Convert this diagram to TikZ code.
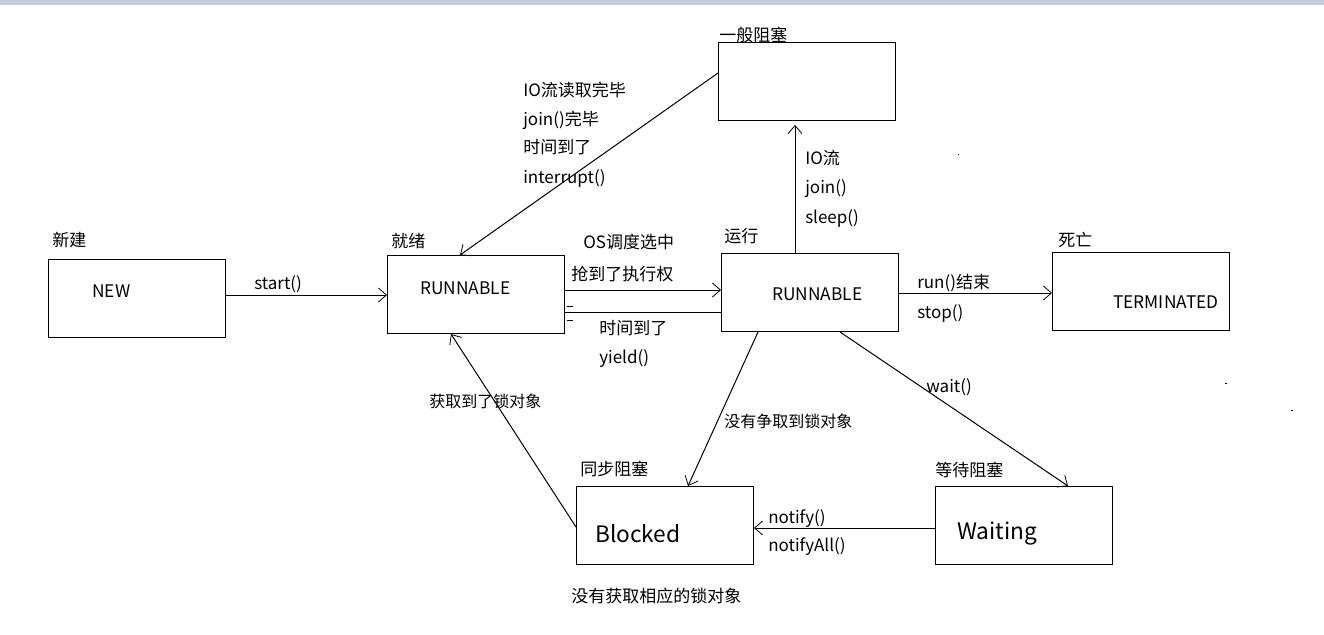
\documentclass[tikz,border=0pt]{standalone}
\usepackage{fontspec}
\setmainfont{Noto Sans CJK SC}
\usetikzlibrary{arrows.meta}
\definecolor{barblue}{HTML}{C5CEE0}
\begin{document}
\begin{tikzpicture}[x=0.75pt,y=-0.75pt,
  box/.style={draw,line width=0.75pt,minimum width=132.75pt,minimum height=58.5pt,inner sep=0pt,anchor=north west},
  lbl/.style={inner sep=0pt,anchor=west,font=\fontsize{12.75pt}{14pt}\selectfont},
  slbl/.style={inner sep=0pt,anchor=west,font=\fontsize{12pt}{14pt}\selectfont},
  intxt/.style={inner sep=0pt,anchor=west,font=\fontsize{13pt}{15pt}\selectfont},
  bigtxt/.style={inner sep=0pt,anchor=west,font=\fontsize{17pt}{20pt}\selectfont},
  conn/.style={line width=0.75pt},
  arr/.style={conn,-{Straight Barb[length=6pt,width=10.5pt,line width=0.6pt]}}
]
\useasboundingbox (0,0) rectangle (1324,635);
\fill[white] (0,0) rectangle (1324,635);
\fill[barblue] (0,0) rectangle (1324,5);

% boxes
\node[box] (new)  at (48,259)  {};
\node[box] (run1) at (387,255) {};
\node[box] (run2) at (721,253) {};
\node[box] (gen)  at (718,42)  {};
\node[box] (term) at (1052,252) {};
\node[box] (blk)  at (576,486) {};
\node[box] (wt)   at (935,486) {};

% box titles
\node[lbl] (tnew)  at (52,240)  {新建};
\node[lbl] (trun1) at (391,241) {就绪};
\node[lbl] (trun2) at (724,236) {运行};
\node[lbl] (tgen)  at (719,35)  {一般阻塞};
\node[lbl] (tterm) at (1058,240) {死亡};
\node[lbl] (tblk)  at (580,469) {同步阻塞};
\node[lbl] (twt)   at (935,470) {等待阻塞};

% box contents
\node[intxt] (inew)  at (92,291)  {NEW};
\node[intxt] (irun1) at (420,288) {RUNNABLE};
\node[intxt] (irun2) at (772,294) {RUNNABLE};
\node[intxt] (iterm) at (1113,302) {TERMINATED};
\node[bigtxt] (iblk) at (595,534) {Blocked};
\node[bigtxt] (iwt)  at (957,534) {Waiting};

% connectors
\draw[arr] (new.east |- 0,295) -- (run1.west |- 0,295);
\draw[arr] (run1.east |- 0,290) -- (run2.west |- 0,290);
\draw[conn] (run2.west |- 0,312) -- (run1.east |- 0,312);
\draw[conn] (567,306) -- (573,306);
\draw[conn] (567,320) -- (573,320);
\draw[arr] (gen.west |- 0,73) -- (run1.north -| 460,0);
\draw[arr,shorten >=3pt] (run2.north -| 795,0) -- (gen.south -| 795,0);
\draw[arr] (run2.east |- 0,293) -- (term.west |- 0,293);
\draw[arr] (run2.south -| 758,0) -- (blk.north -| 688,0);
\draw[arr] (run2.south -| 840,0) -- (wt.north -| 1068,0);
\draw[arr] (wt.west |- 0,528) -- (blk.east |- 0,528);
\draw[arr] (blk.west |- 0,527) -- (run1.south -| 451,0);

% connector labels
\node[lbl] (lstart) at (254,284) {start()};
\node[lbl] (los)    at (583,242) {OS调度选中};
\node[lbl] (lqiang) at (571,274) {抢到了执行权};
\node[lbl] (ltime)  at (599,328) {时间到了};
\node[lbl] (lyield) at (599,359) {yield()};
\node[lbl] (lio)    at (523,90)  {IO流读取完毕};
\node[lbl] (ljoin)  at (523,120) {join()完毕};
\node[lbl] (ltime2) at (523,147) {时间到了};
\node[lbl] (lintr)  at (523,178) {interrupt()};
\node[lbl] (lio2)   at (805,158) {IO流};
\node[lbl] (ljoin2) at (805,189) {join()};
\node[lbl] (lsleep) at (805,218) {sleep()};
\node[lbl] (lrun)   at (917,283) {run()结束};
\node[lbl] (lstop)  at (917,313) {stop()};
\node[lbl] (lwait)  at (926,387) {wait()};
\node[slbl] (lget)  at (429,401) {获取到了锁对象};
\node[slbl] (lnot)  at (724,421) {没有争取到锁对象};
\node[lbl] (lnotify)    at (768,519) {notify()};
\node[lbl] (lnotifyall) at (768,547) {notifyAll()};
\node[lbl] (lbottom)    at (571,596) {没有获取相应的锁对象};

% stray marks
\fill (957.5,153.5) rectangle (959,155);
\fill (1225,382.5) rectangle (1227,383.5);
\fill (1291,409.5) rectangle (1293,410.5);
\end{tikzpicture}
\end{document}
